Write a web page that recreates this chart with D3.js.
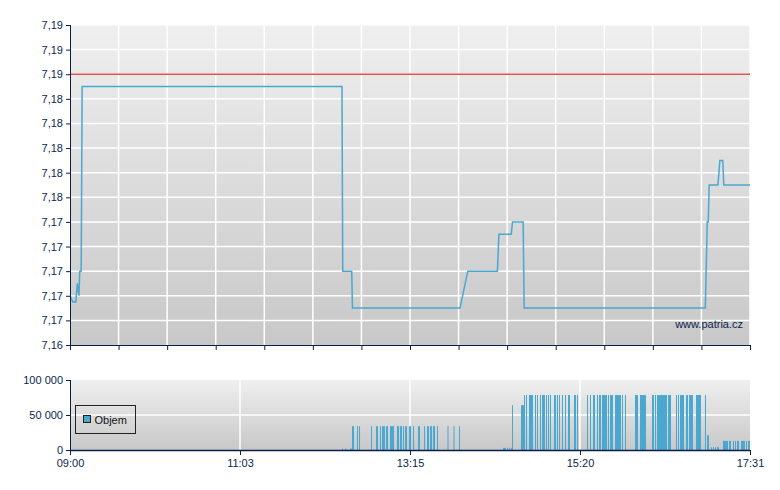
<!DOCTYPE html>
<html>
<head>
<meta charset="utf-8">
<script src="https://cdn.jsdelivr.net/npm/d3@7"></script>
<style>
  body { margin: 0; background: #fff; }
  .tick text { font-family: "Liberation Sans", Arial, sans-serif; font-size: 11px; fill: #0b1f4f; }
</style>
</head>
<body>
<div class="chart"></div>
<script>
// Price: position on the (trade-index) axis, 0..140, and price values
var priceSlots = [0, 0.6, 1.2, 1.5, 1.85, 2.0, 2.3, 2.5, 56.0, 56.15, 58.0, 58.15,
  80.3, 81.9, 88.0, 88.3, 90.85, 91.1, 93.3, 93.5, 130.8, 131.2, 131.4, 131.6,
  133.4, 133.8, 134.4, 134.6, 140];
var priceValues = [7.169, 7.1685, 7.1685, 7.170, 7.169, 7.171, 7.171, 7.186, 7.186, 7.171, 7.171, 7.168,
  7.168, 7.171, 7.171, 7.174, 7.174, 7.175, 7.175, 7.168, 7.168, 7.175, 7.175, 7.178,
  7.178, 7.180, 7.180, 7.178, 7.178];
var prevClose = 7.187;

var yTickValues = [7.165, 7.167, 7.169, 7.171, 7.173, 7.175, 7.177, 7.179, 7.181, 7.183, 7.185, 7.187, 7.189, 7.191];
var yTickLabels = ["7,16", "7,17", "7,17", "7,17", "7,17", "7,17", "7,18", "7,18", "7,18", "7,18", "7,18", "7,19", "7,19", "7,19"];

var xGridSlots = [0, 10, 20, 30, 40, 50, 60, 70, 80, 90, 100, 110, 120, 130, 140];
var xLabelSlots = [0, 35, 70, 105, 140];
var xLabels = ["09:00", "11:03", "13:15", "15:20", "17:31"];

// Volume bars: [from, to, volume]
var volumeBars = [
  [56.0, 56.21, 2000], [56.62, 56.93, 2000], [57.65, 58.06, 2000],
  [58.06, 58.47, 34000], [59.09, 59.29, 34000], [59.5, 59.71, 34000], [61.97, 62.18, 34000],
  [63.0, 63.41, 34000], [63.82, 64.03, 34000], [64.24, 64.85, 34000], [65.06, 65.47, 34000],
  [65.88, 66.71, 34000], [67.32, 67.74, 34000], [67.94, 68.35, 34000], [68.56, 68.76, 34000],
  [68.97, 69.38, 34000], [69.79, 70.21, 34000], [70.62, 70.82, 34000], [71.65, 72.06, 34000],
  [72.88, 73.09, 34000], [73.5, 73.91, 34000], [74.12, 74.53, 34000], [74.73, 75.15, 34000],
  [75.56, 75.76, 34000], [77.72, 77.93, 34000], [78.96, 79.16, 34000], [80.09, 80.29, 34000],
  [89.15, 89.76, 3000], [89.97, 90.18, 3000], [90.38, 90.59, 3000], [90.79, 91.0, 3000],
  [91.0, 91.2, 64000], [92.85, 93.47, 64000],
  [93.47, 93.68, 78500], [93.88, 94.09, 78500], [94.5, 95.32, 78500], [95.73, 95.94, 78500],
  [96.15, 96.35, 78500], [96.76, 96.97, 78500], [97.18, 97.79, 78500], [98.0, 98.2, 78500],
  [98.41, 98.62, 78500], [98.82, 99.03, 78500], [99.65, 100.06, 78500], [100.26, 100.47, 78500],
  [100.68, 100.88, 78500], [101.29, 101.5, 78500], [101.91, 102.12, 78500], [102.53, 102.94, 78500],
  [103.76, 104.18, 78500], [104.38, 104.59, 78500], [106.44, 106.65, 78500], [107.06, 107.26, 78500],
  [107.68, 108.09, 78500], [108.5, 108.71, 78500], [108.91, 109.32, 78500], [109.53, 110.56, 78500],
  [110.76, 110.97, 78500], [111.18, 111.79, 78500], [112.21, 113.44, 78500], [113.65, 113.85, 78500],
  [114.26, 114.47, 78500], [116.32, 116.94, 78500], [117.35, 118.59, 78500], [119.82, 120.23, 78500],
  [120.44, 120.65, 78500], [120.85, 122.91, 78500], [123.12, 123.74, 78500], [124.76, 124.97, 78500],
  [125.18, 125.38, 78500], [125.59, 126.41, 78500], [126.82, 127.23, 78500], [127.44, 128.26, 78500],
  [128.88, 129.91, 78500], [130.73, 130.94, 78500],
  [131.15, 131.56, 21000], [131.97, 132.18, 4000], [132.38, 132.59, 4000], [132.79, 133.0, 4000],
  [133.2, 133.62, 4000],
  [134.44, 135.47, 13000], [135.68, 136.09, 13000], [136.5, 136.71, 13000], [136.91, 137.12, 13000],
  [137.32, 137.74, 13000], [138.15, 138.97, 13000], [139.18, 139.38, 13000], [139.59, 140.0, 13000]
];
var volTickValues = [0, 50000, 100000];
var volTickLabels = ["0", "50 000", "100 000"];

var svgWidth = 780;
var svgHeight = 490;
var navy = "#0b1f4f";
var lineBlue = "#4aa8d0";

var svg = d3.select(".chart")
  .append("svg")
  .attr("width", svgWidth)
  .attr("height", svgHeight);

var defs = svg.append("defs");
var grad = defs.append("linearGradient")
  .attr("id", "bg")
  .attr("x1", 0).attr("y1", 0).attr("x2", 0).attr("y2", 1);
grad.append("stop").attr("offset", "0%").attr("stop-color", "#efefef");
grad.append("stop").attr("offset", "100%").attr("stop-color", "#c8c8c8");

// ---------- Price chart ----------
var main = { left: 70, right: 750, top: 25, bottom: 345 };

var xScale = d3.scaleLinear().domain([0, 140]).range([main.left, main.right]);
var yScale = d3.scaleLinear().domain([7.165, 7.191]).range([main.bottom, main.top]);

svg.append("rect")
  .attr("x", main.left).attr("y", main.top)
  .attr("width", main.right - main.left).attr("height", main.bottom - main.top)
  .attr("fill", "url(#bg)");

// grid
svg.append("g").selectAll("line")
  .data(yTickValues.slice(1))
  .enter().append("line")
  .attr("x1", main.left).attr("x2", main.right)
  .attr("y1", function(d){ return yScale(d); })
  .attr("y2", function(d){ return yScale(d); })
  .attr("stroke", "#fff").attr("stroke-width", 1.5);

svg.append("g").selectAll("line")
  .data(xGridSlots.slice(1))
  .enter().append("line")
  .attr("x1", function(d){ return xScale(d); })
  .attr("x2", function(d){ return xScale(d); })
  .attr("y1", main.top).attr("y2", main.bottom)
  .attr("stroke", "#fff").attr("stroke-width", 1.5);

// previous close
svg.append("line")
  .attr("x1", main.left).attr("x2", main.right)
  .attr("y1", yScale(prevClose)).attr("y2", yScale(prevClose))
  .attr("stroke", "#ea4f4f").attr("stroke-width", 1.3);

// price line
var line = d3.line()
  .x(function(d){ return xScale(d[0]); })
  .y(function(d){ return yScale(d[1]); });

svg.append("path")
  .datum(priceSlots.map(function(s, i){ return [s, priceValues[i]]; }))
  .attr("d", line)
  .attr("fill", "none")
  .attr("stroke", lineBlue)
  .attr("stroke-width", 1.5);

svg.append("text")
  .attr("x", 743).attr("y", 328)
  .attr("text-anchor", "end")
  .style("font-family", "Liberation Sans, Arial, sans-serif")
  .style("font-size", "11px")
  .attr("fill", navy)
  .text("www.patria.cz");

// axes
var leftAxis = d3.axisLeft(yScale)
  .tickValues(yTickValues)
  .tickFormat(function(d, i){ return yTickLabels[i]; })
  .tickSize(4).tickPadding(3);

svg.append("g")
  .attr("transform", "translate(" + main.left + ",0)")
  .call(leftAxis)
  .call(function(g){
    g.select(".domain").attr("d", "M0.5," + main.top + "V" + main.bottom).attr("stroke", navy);
    g.selectAll(".tick line").attr("stroke", navy);
  });

var mainBottomAxis = d3.axisBottom(xScale)
  .tickValues(xGridSlots)
  .tickFormat("")
  .tickSize(5);

svg.append("g")
  .attr("transform", "translate(0," + main.bottom + ")")
  .call(mainBottomAxis)
  .call(function(g){
    g.select(".domain").attr("d", "M" + main.left + ",0.5H" + main.right).attr("stroke", navy);
    g.selectAll(".tick line").attr("stroke", navy);
  });

// ---------- Volume chart ----------
var vol = { left: 70, right: 750, top: 380, bottom: 450 };
var vScale = d3.scaleLinear().domain([0, 100000]).range([vol.bottom, vol.top]);

svg.append("rect")
  .attr("x", vol.left).attr("y", vol.top)
  .attr("width", vol.right - vol.left).attr("height", vol.bottom - vol.top)
  .attr("fill", "url(#bg)");

svg.append("line")
  .attr("x1", vol.left).attr("x2", vol.right)
  .attr("y1", vScale(50000)).attr("y2", vScale(50000))
  .attr("stroke", "#fff").attr("stroke-width", 1.5);

svg.append("g").selectAll("line")
  .data(xLabelSlots.slice(1, 4))
  .enter().append("line")
  .attr("x1", function(d){ return xScale(d); })
  .attr("x2", function(d){ return xScale(d); })
  .attr("y1", vol.top).attr("y2", vol.bottom)
  .attr("stroke", "#fff").attr("stroke-width", 1.5);

svg.append("g").selectAll("rect")
  .data(volumeBars)
  .enter().append("rect")
  .attr("x", function(d){ return xScale(d[0]); })
  .attr("width", function(d){ return Math.max(1, xScale(d[1]) - xScale(d[0])); })
  .attr("y", function(d){ return vScale(d[2]); })
  .attr("height", function(d){ return vol.bottom - vScale(d[2]); })
  .attr("fill", lineBlue);

var volLeftAxis = d3.axisLeft(vScale)
  .tickValues(volTickValues)
  .tickFormat(function(d, i){ return volTickLabels[i]; })
  .tickSize(4).tickPadding(3);

svg.append("g")
  .attr("transform", "translate(" + vol.left + ",0)")
  .call(volLeftAxis)
  .call(function(g){
    g.select(".domain").attr("d", "M0.5," + vol.top + "V" + vol.bottom).attr("stroke", navy);
    g.selectAll(".tick line").attr("stroke", navy);
  });

var volBottomAxis = d3.axisBottom(xScale)
  .tickValues(xLabelSlots)
  .tickFormat(function(d, i){ return xLabels[i]; })
  .tickSize(5).tickPadding(4);

svg.append("g")
  .attr("transform", "translate(0," + vol.bottom + ")")
  .call(volBottomAxis)
  .call(function(g){
    g.select(".domain").attr("d", "M" + vol.left + ",0.5H" + vol.right).attr("stroke", navy).attr("stroke-width", 1.5);
    g.selectAll(".tick line").attr("stroke", navy);
  });

// legend
var legend = svg.append("g").attr("transform", "translate(75.5,405.5)");
legend.append("rect")
  .attr("width", 60).attr("height", 28)
  .attr("fill", "none").attr("stroke", "#222");
legend.append("rect")
  .attr("x", 8).attr("y", 10).attr("width", 7).attr("height", 7)
  .attr("fill", lineBlue).attr("stroke", "#222");
legend.append("text")
  .attr("x", 19).attr("y", 18)
  .style("font-family", "Liberation Sans, Arial, sans-serif")
  .style("font-size", "11px")
  .attr("fill", "#111")
  .text("Objem");
</script>
</body>
</html>
